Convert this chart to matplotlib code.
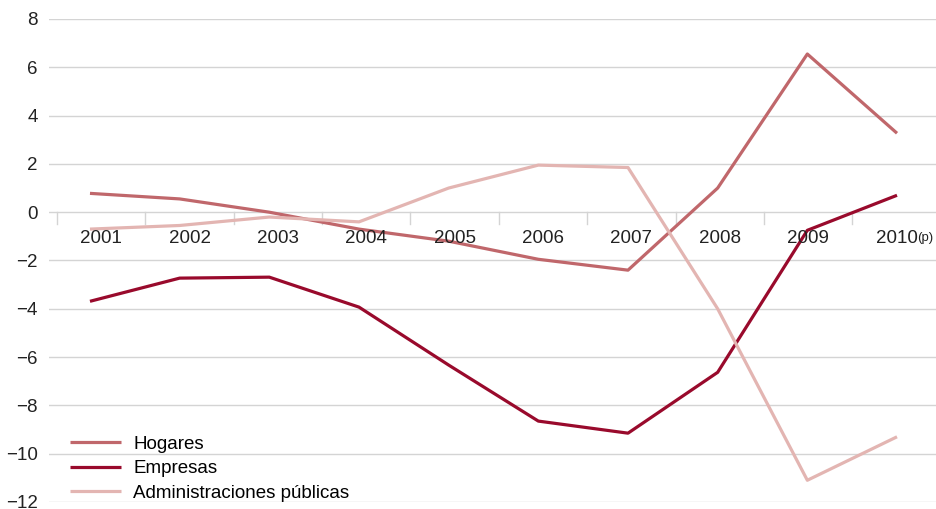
import matplotlib.pyplot as plt

plt.rcParams['font.family'] = ['Liberation Sans', 'DejaVu Sans']

# data
years = ['2001', '2002', '2003', '2004', '2005', '2006', '2007', '2008', '2009', '2010']
hogares = [0.78, 0.55, 0.0, -0.7, -1.2, -1.95, -2.4, 1.0, 6.55, 3.27]
empresas = [-3.69, -2.73, -2.69, -3.93, -6.33, -8.65, -9.15, -6.63, -0.75, 0.7]
admin = [-0.7, -0.55, -0.2, -0.4, 1.0, 1.95, 1.85, -4.0, -11.1, -9.3]

series = [('Hogares', hogares, '#c0676b'),
          ('Empresas', empresas, '#990a2c'),
          ('Administraciones públicas', admin, '#e3b5b2')]

fig = plt.figure(figsize=(9.37, 5.09), dpi=100)
ax = fig.add_axes([49 / 937, 7 / 509, 888 / 937, 483 / 509])

x = list(range(len(years)))
for name, vals, col in series:
    ax.plot(x, vals, color=col, lw=2.3, label=name, solid_capstyle='butt')

ax.set_ylim(-12, 8)
ax.set_xlim(-0.457, 9.446)
ax.set_yticks(range(-12, 9, 2))
ax.set_xticks([])
for s in ax.spines.values():
    s.set_visible(False)
ax.grid(axis='y', color='#d4d4d4', lw=1)
ax.set_axisbelow(True)
ax.tick_params(axis='y', length=0, pad=8, labelsize=13.5, labelcolor='#222222')

# category ticks on the zero line
step = 0.9855
for k in range(11):
    tx = -0.368 + k * step
    ax.plot([tx, tx], [0, -0.5], color='#d4d4d4', lw=1, zorder=0)
for k, yr in enumerate(years):
    lx = -0.368 + (k + 0.5) * step
    ax.text(lx, -1.08, yr, ha='center', va='center', fontsize=13.5, color='#222222')
ax.text(-0.368 + 9.5 * step + 0.225, -1.08, '(p)', ha='left', va='center', fontsize=9.5, color='#222222')

ax.legend(loc='lower left', bbox_to_anchor=(0.024, 0.0), frameon=False, fontsize=13.5,
          handlelength=2.7, handletextpad=0.65, labelspacing=0.4, borderpad=0.0,
          borderaxespad=0.0)

fig.savefig('out.png', dpi=100)
